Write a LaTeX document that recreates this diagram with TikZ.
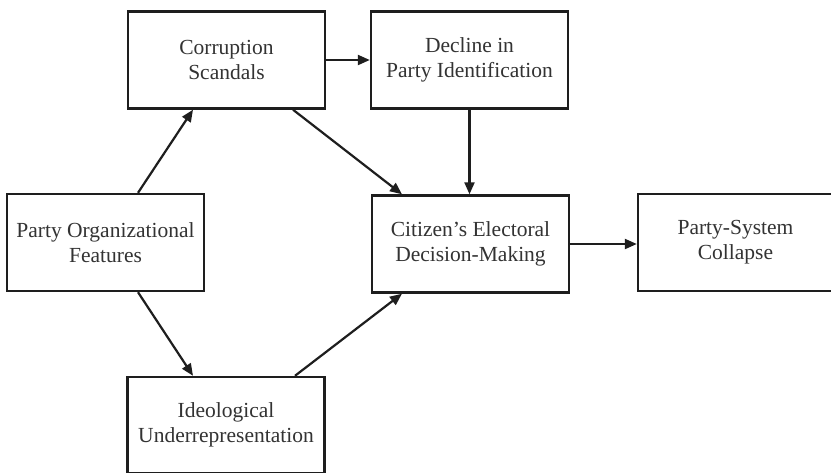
\documentclass[tikz,border=0pt]{standalone}
\usepackage{fontspec}
\setmainfont{Liberation Serif}
\usetikzlibrary{calc,arrows.meta}
\definecolor{ink}{HTML}{1E1E1E}
\definecolor{txt}{HTML}{333333}
\tikzset{
  box/.style={draw=ink, line width=2.4pt, minimum width=197pt, minimum height=97pt,
    inner sep=0pt, align=center, text=txt,
    font=\fontsize{21.5pt}{25pt}\selectfont},
  arr/.style={draw=ink, line width=2.2pt, -{Triangle[length=12pt,width=10pt]}}
}
\begin{document}
\begin{tikzpicture}[x=1pt,y=-1pt]
\useasboundingbox (0,0) rectangle (831,472);
\fill[white] (0,0) rectangle (831,472);
\clip (0,0) rectangle (831,472);
\node[box] (corr) at (226.5,60) {Corruption\\Scandals};
\node[box] (decl) at (469.5,60) {Decline in\\Party Identification};
\node[box] (porg) at (105.5,242.5) {Party Organizational\\Features};
\node[box] (citz) at (470.5,244) {Citizen’s Electoral\\Decision-Making};
\node[box, minimum width=195pt] (psys) at (735.5,242.5) {Party-System\\Collapse};
\node[box, minimum height=96pt] (ideo) at (226,425) {Ideological\\Underrepresentation};
\draw[arr] (corr.east) -- (decl.west);
\draw[arr] ($(porg.north)+(32.5,0)$) -- ($(corr.south)+(-33.5,0)$);
\draw[arr] ($(corr.south)+(66.5,0)$) -- ($(citz.north)+(-68.5,0)$);
\draw[arr] (decl.south) -- (decl.south |- citz.north);
\draw[arr] ($(porg.south)+(32.5,0)$) -- ($(ideo.north)+(-33,0)$);
\draw[arr] ($(ideo.north)+(69,0)$) -- ($(citz.south)+(-68.5,0)$);
\draw[arr] (citz.east) -- (citz.east -| psys.west);
\end{tikzpicture}
\end{document}
